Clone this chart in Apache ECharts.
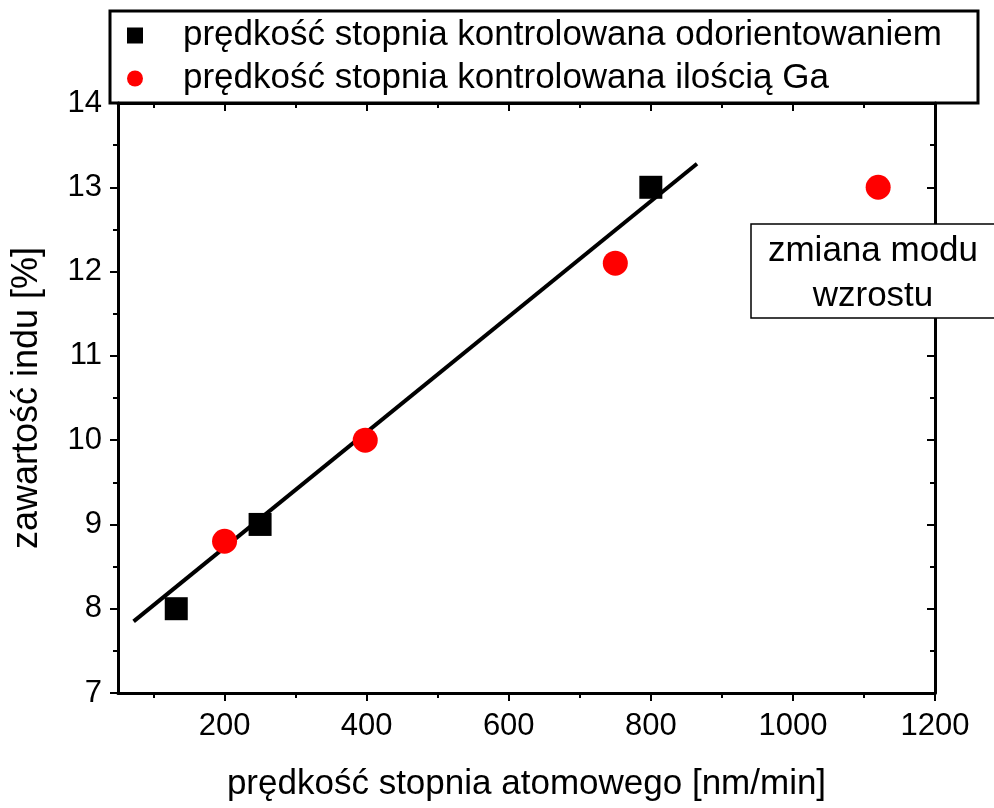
<!DOCTYPE html>
<html>
<head>
    <meta charset="utf-8">
    <title>ECharts</title>
    <script src="https://cdn.jsdelivr.net/npm/echarts@6/dist/echarts.min.js"></script>
</head>
<body style="margin:0;background:#fff">
    <div id="main" style="width: 994px;height:808px;"></div>
    <script type="text/javascript">
    // dane
    var seriesNames = ['prędkość stopnia kontrolowana odorientowaniem', 'prędkość stopnia kontrolowana ilością Ga'];
    var orientData = [[132, 8], [250, 9], [800, 13]];
    var gaData = [[200, 8.8], [398, 10], [750, 12.1], [1120, 13]];
    var fitLine = [[72, 7.85], [865, 13.28]];
    var xMajor = [200, 400, 600, 800, 1000, 1200];
    var xMinor = [100, 300, 500, 700, 900, 1100];
    var noteText = 'zmiana modu\nwzrostu';

    var FONT = 'Liberation Sans, Arial, sans-serif';
    var myChart = echarts.init(document.getElementById('main'));

    function xAx(pos, ticks, len, inside, showLine, showLabel) {
        return {
            type: 'value', position: pos, min: 50, max: 1200,
            splitLine: {show: false},
            axisLine: {show: showLine, onZero: false, lineStyle: {color: '#000', width: 3}},
            axisTick: {show: true, inside: inside, length: len, customValues: ticks,
                lineStyle: {color: '#000', width: 2}},
            axisLabel: {show: showLabel, customValues: ticks, margin: 18,
                color: '#000', fontSize: 31, fontFamily: FONT,
                formatter: function (v) { return String(v); }}
        };
    }

    var bottomAx = xAx('bottom', xMajor, 8, false, true, true);
    bottomAx.name = 'prędkość stopnia atomowego [nm/min]';
    bottomAx.nameLocation = 'middle';
    bottomAx.nameGap = 74;
    bottomAx.nameTextStyle = {color: '#000', fontSize: 35, fontFamily: FONT};

    var option = {
        animation: false,
        backgroundColor: '#fff',
        grid: {left: 118, right: 59, top: 103, bottom: 115},
        legend: {
            data: [
                {name: seriesNames[0], icon: 'rect'},
                {name: seriesNames[1], icon: 'circle'}
            ],
            orient: 'vertical', left: 122, top: 13,
            itemWidth: 16, itemHeight: 16, itemGap: 8,
            textStyle: {color: '#000', fontSize: 35, fontFamily: FONT, padding: [0, 0, 0, 35]}
        },
        xAxis: [
            bottomAx,
            xAx('bottom', xMinor, 5, false, false, false),
            xAx('top', xMajor, 8, true, true, false),
            xAx('top', xMinor, 5, true, false, false)
        ],
        yAxis: [
            {
                type: 'value', position: 'left', min: 7, max: 14, interval: 1,
                name: 'zawartość indu [%]', nameLocation: 'middle', nameGap: 73,
                nameTextStyle: {color: '#000', fontSize: 36, fontFamily: FONT},
                splitLine: {show: false},
                axisLine: {show: true, onZero: false, lineStyle: {color: '#000', width: 3}},
                axisTick: {show: true, length: 8, lineStyle: {color: '#000', width: 2}},
                minorTick: {show: true, splitNumber: 2, length: 5, lineStyle: {color: '#000', width: 2}},
                axisLabel: {color: '#000', fontSize: 31, fontFamily: FONT, margin: 16}
            },
            {
                type: 'value', position: 'right', min: 7, max: 14, interval: 1,
                splitLine: {show: false},
                axisLine: {show: true, onZero: false, lineStyle: {color: '#000', width: 3}},
                axisTick: {show: true, inside: true, length: 8, lineStyle: {color: '#000', width: 2}},
                minorTick: {show: true, splitNumber: 2, length: 5, lineStyle: {color: '#000', width: 2}},
                axisLabel: {show: false}
            }
        ],
        series: [
            {
                name: 'fit', type: 'line', data: fitLine, showSymbol: false, symbol: 'none',
                lineStyle: {color: '#000', width: 4}, z: 2, silent: true
            },
            {
                name: seriesNames[0], type: 'scatter', data: orientData,
                symbol: 'rect', symbolSize: 23, itemStyle: {color: '#000', opacity: 1}, z: 3
            },
            {
                name: seriesNames[1], type: 'scatter', data: gaData,
                symbol: 'circle', symbolSize: 25, itemStyle: {color: '#ff0000', opacity: 1}, z: 3
            }
        ],
        graphic: [
            {
                type: 'rect', z: 1,
                shape: {x: 110, y: 11, width: 868, height: 92},
                style: {fill: 'none', stroke: '#000', lineWidth: 3}
            },
            {
                type: 'rect', z: 100,
                shape: {x: 751, y: 224, width: 250, height: 94},
                style: {fill: '#fff', stroke: '#000', lineWidth: 1.5}
            },
            {
                type: 'text', z: 101, x: 873, y: 229,
                style: {text: noteText, fill: '#000', fontSize: 35, fontFamily: FONT,
                    lineHeight: 45, align: 'center', verticalAlign: 'top'}
            }
        ]
    };

    myChart.setOption(option);
    </script>
</body>
</html>
